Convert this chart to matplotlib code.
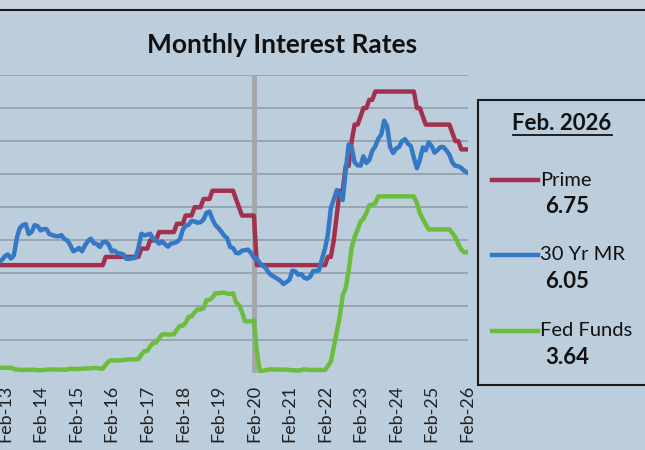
import numpy as np
import pandas as pd
import matplotlib
matplotlib.use("Agg")
import matplotlib.pyplot as plt
from matplotlib.patches import Rectangle

plt.rcParams['font.family'] = ['Lato', 'DejaVu Sans']

# monthly values, Dec 2012 .. Feb 2026
months = pd.date_range("2012-12-01", "2026-02-01", freq="MS")

prime = ([3.25] * 36 + [3.50]
         + [3.50] * 11 + [3.75]
         + [3.75, 3.75, 4.00, 4.00, 4.00, 4.25, 4.25, 4.25, 4.25, 4.25, 4.25, 4.50]
         + [4.50, 4.50, 4.75, 4.75, 4.75, 5.00, 5.00, 5.00, 5.25, 5.25, 5.25, 5.50]
         + [5.50] * 7 + [5.25, 5.00, 4.75, 4.75, 4.75]
         + [4.75, 4.75] + [3.25] * 10
         + [3.25] * 12
         + [3.25, 3.25, 3.50, 3.50, 4.00, 4.75, 5.50, 5.50, 6.25, 6.25, 7.00, 7.50]
         + [7.50, 7.75, 8.00, 8.00, 8.25, 8.25] + [8.50] * 6
         + [8.50] * 8 + [8.00, 8.00, 7.75, 7.50]
         + [7.50] * 8 + [7.25, 7.00, 7.00, 6.75]
         + [6.75, 6.75])

mortgage = ([3.35]
            + [3.41, 3.53, 3.57, 3.45, 3.54, 4.07, 4.37, 4.46, 4.49, 4.19, 4.26, 4.46]
            + [4.43, 4.30, 4.34, 4.34, 4.19, 4.16, 4.13, 4.12, 4.16, 4.04, 4.00, 3.86]
            + [3.67, 3.71, 3.77, 3.67, 3.84, 3.98, 4.05, 3.91, 3.89, 3.80, 3.94, 3.96]
            + [3.87, 3.66, 3.69, 3.61, 3.60, 3.57, 3.44, 3.44, 3.46, 3.47, 3.77, 4.20]
            + [4.15, 4.17, 4.20, 4.05, 4.01, 3.90, 3.97, 3.88, 3.81, 3.90, 3.92, 3.95]
            + [4.03, 4.33, 4.44, 4.47, 4.59, 4.57, 4.53, 4.55, 4.63, 4.83, 4.87, 4.64]
            + [4.46, 4.37, 4.27, 4.14, 4.07, 3.80, 3.77, 3.62, 3.61, 3.69, 3.70, 3.72]
            + [3.62, 3.47, 3.45, 3.31, 3.23, 3.16, 3.02, 2.94, 2.89, 2.83, 2.77, 2.68]
            + [2.74, 2.81, 3.08, 3.06, 2.96, 2.98, 2.87, 2.84, 2.90, 3.07, 3.07, 3.10]
            + [3.45, 3.76, 4.17, 4.98, 5.23, 5.52, 5.41, 5.22, 6.11, 6.90, 6.81, 6.36]
            + [6.27, 6.26, 6.54, 6.34, 6.43, 6.71, 6.84, 7.07, 7.20, 7.62, 7.44, 6.82]
            + [6.64, 6.78, 6.82, 7.00, 7.06, 6.92, 6.85, 6.50, 6.18, 6.43, 6.81, 6.72]
            + [6.96, 6.84, 6.65, 6.73, 6.82, 6.82, 6.72, 6.59, 6.35, 6.25, 6.24, 6.19]
            + [6.10, 6.05])

fed_funds = ([0.16]
             + [0.14, 0.15, 0.14, 0.15, 0.11, 0.09, 0.09, 0.08, 0.08, 0.09, 0.08, 0.09]
             + [0.07, 0.07, 0.08, 0.09, 0.09, 0.10, 0.09, 0.09, 0.09, 0.09, 0.09, 0.12]
             + [0.11, 0.11, 0.11, 0.12, 0.12, 0.13, 0.13, 0.14, 0.14, 0.12, 0.12, 0.24]
             + [0.34, 0.38, 0.36, 0.37, 0.37, 0.38, 0.39, 0.40, 0.40, 0.40, 0.41, 0.54]
             + [0.65, 0.66, 0.79, 0.90, 0.91, 1.04, 1.15, 1.16, 1.15, 1.15, 1.16, 1.30]
             + [1.41, 1.42, 1.51, 1.69, 1.70, 1.82, 1.91, 1.91, 1.95, 2.19, 2.20, 2.27]
             + [2.40, 2.40, 2.41, 2.42, 2.39, 2.38, 2.40, 2.13, 2.04, 1.83, 1.55, 1.55]
             + [1.55, 1.58, 0.65, 0.05, 0.05, 0.08, 0.09, 0.10, 0.09, 0.09, 0.09, 0.09]
             + [0.09, 0.08, 0.07, 0.07, 0.06, 0.08, 0.10, 0.09, 0.08, 0.08, 0.08, 0.08]
             + [0.08, 0.08, 0.20, 0.33, 0.77, 1.21, 1.68, 2.33, 2.56, 3.08, 3.78, 4.10]
             + [4.33, 4.57, 4.65, 4.83, 5.06, 5.08, 5.12, 5.33, 5.33, 5.33, 5.33, 5.33]
             + [5.33] * 8 + [5.13, 4.83, 4.64, 4.48]
             + [4.33] * 8 + [4.22, 4.09, 3.88, 3.72]
             + [3.64, 3.64])

tick_years = list(range(2013, 2027))
tick_labels = ["Feb-%02d" % (y % 100) for y in tick_years]
legend_names = ["Prime", "30 Yr MR", "Fed Funds"]
legend_values = ["6.75", "6.05", "3.64"]

bg = "#bccddb"
red = "#a3304f"
blue = "#3579c6"
green = "#6cbd3d"

fig = plt.figure(figsize=(6.45, 4.5), dpi=100)
fig.patch.set_facecolor(bg)
W, H = 645, 450

# photo top strip + border
fig.patches.append(Rectangle((0, 1 - 10 / H), 1, 10 / H, transform=fig.transFigure,
                             facecolor="#c9d2da", edgecolor="none", zorder=0))
fig.add_artist(plt.Line2D([0, 1], [1 - 10 / H, 1 - 10 / H], color="#1a1a1a", lw=1.5))

ax = fig.add_axes([0, 1 - 372.6 / H, 468 / W, (372.6 - 75) / H])
ax.set_facecolor(bg)
ax.set_xlim(pd.Timestamp("2012-12-10"), pd.Timestamp("2026-02-08"))
ax.set_ylim(0, 9)
for s in ax.spines.values():
    s.set_visible(False)
ax.set_yticks(range(1, 10))
ax.yaxis.grid(True, color="#8e9ba6", lw=1.1)
ax.tick_params(axis="y", length=0, labelleft=False)
ax.set_axisbelow(True)

ax.axvline(pd.Timestamp("2020-02-01"), color="#a5a7ab", lw=3.5, zorder=1)

ax.plot(months, fed_funds, color=green, lw=3.2, zorder=3)
ax.plot(months, prime, color=red, lw=3.2, zorder=3)
ax.plot(months, mortgage, color=blue, lw=3.2, zorder=4)

ticks = [pd.Timestamp("%d-02-01" % y) for y in tick_years]
ax.set_xticks(ticks)
ax.set_xticklabels(tick_labels, rotation=90, fontsize=13, color="#222222")
ax.tick_params(axis="x", length=0, pad=9)

fig.text(282 / W, 1 - 45 / H, "Monthly Interest Rates", ha="center", va="center",
         fontsize=19, fontweight="bold", color="#111111")

# legend box
fig.patches.append(Rectangle((478 / W, 1 - 385 / H), 200 / W, 285 / H,
                             transform=fig.transFigure, facecolor=bg,
                             edgecolor="#1a1a1a", lw=1.5, zorder=1))
fig.text(562 / W, 1 - 123 / H, "Feb. 2026", ha="center", va="center",
         fontsize=16, fontweight="bold", color="#111111")
fig.add_artist(plt.Line2D([513 / W, 612 / W], [1 - 135 / H, 1 - 135 / H],
                          color="#111111", lw=1.3))

colors = [red, blue, green]
line_y = [180, 255, 331]
for name, val, c, yy in zip(legend_names, legend_values, colors, line_y):
    fig.add_artist(plt.Line2D([492 / W, 538 / W], [1 - yy / H, 1 - yy / H],
                              color=c, lw=3.2))
    fig.text(540 / W, 1 - yy / H, name, ha="left", va="center",
             fontsize=14.5, color="#111111")
    fig.text(567 / W, 1 - (yy + 26) / H, val, ha="center", va="center",
             fontsize=16, fontweight="bold", color="#111111")

plt.savefig("out.png", dpi=100, facecolor=fig.get_facecolor())
